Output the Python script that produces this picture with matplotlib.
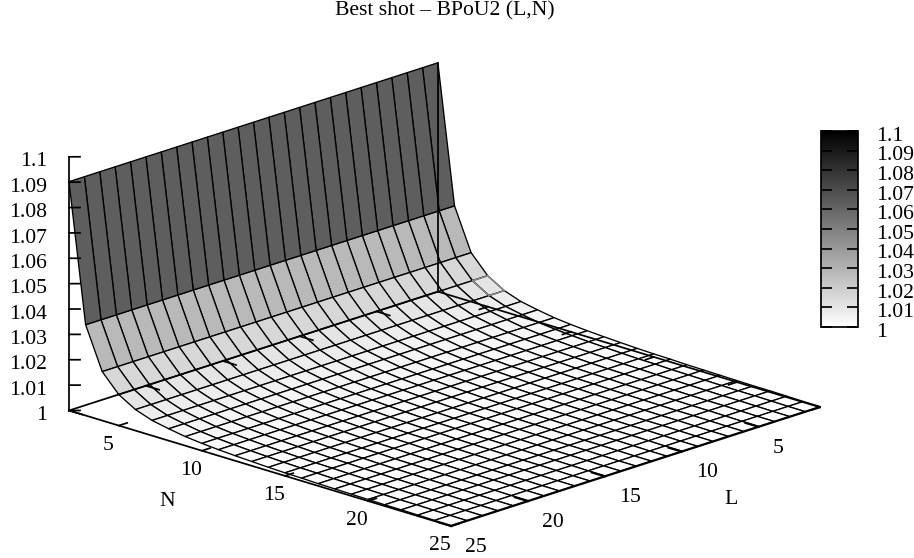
import numpy as np
import matplotlib
matplotlib.use('Agg')
import matplotlib.pyplot as plt
from matplotlib import cm, colors
from matplotlib.transforms import ScaledTranslation
from mpl_toolkits.mplot3d import proj3d

plt.rcParams['font.family'] = ['Liberation Serif', 'DejaVu Serif']
plt.rcParams['font.size'] = 15.6

title = 'Best shot – BPoU2 (L,N)'

# surface height, one value per N (2..25), flat along L
n_values = list(range(2, 26))
l_values = list(range(1, 26))
z_of_n = [1.0902, 1.0358, 1.0193, 1.0122, 1.0083, 1.0060, 1.0047, 1.0036,
          1.0029, 1.0024, 1.0020, 1.0017, 1.0014, 1.0012, 1.0011, 1.0009,
          1.0008, 1.0007, 1.0006, 1.0005, 1.0005, 1.0004, 1.0003, 1.0003]

xy_ticks = [5, 10, 15, 20, 25]
z_ticks = [1, 1.01, 1.02, 1.03, 1.04, 1.05, 1.06, 1.07, 1.08, 1.09, 1.1]
z_labels = ['1', '1.01', '1.02', '1.03', '1.04', '1.05', '1.06', '1.07', '1.08', '1.09', '1.1']

n_min, n_max = 2, 25
l_min, l_max = 1, 25
z_min, z_max = 1, 1.1

fig = plt.figure(figsize=(9.14, 5.58), dpi=100)
ax = fig.add_axes([0, 0, 1, 1], projection='3d', proj_type='ortho', computed_zorder=False)
ax.view_init(elev=18.2, azim=-45.9)
ax.set_box_aspect((532, 530, 267))
ax.set_xlim(n_min, n_max)
ax.set_ylim(l_max, l_min)
ax.set_zlim(z_min, z_max)
ax.set_axis_off()


def to_px(n, l, z):
    x, y, _ = proj3d.proj_transform(n, l, z, ax.get_proj())
    return ax.transData.transform((x, y))


def label(n, l, z, s, **kw):
    # plain 2d text at the projected position of a 3d point
    x, y, _ = proj3d.proj_transform(n, l, z, ax.get_proj())
    ax.text2D(x, y, s, transform=ax.transData, va='baseline', zorder=4, **kw)


# fit the square 3d axes so the box corners land where the reference has them
ax.apply_aspect()
span = to_px(n_max, l_min, z_min)[0] - to_px(n_min, l_max, z_min)[0]
side = ax.bbox.width * 751 / span
ax.set_position([0, 0, side / 914, side / 558])
ax.apply_aspect()
corner = to_px(n_min, l_max, z_min)
ax.set_position([(69 - corner[0]) / 914, (558 - 410.5 - corner[1]) / 558, side / 914, side / 558])

# pm3d style surface, cell colour is the mean of the four corners
NN, LL = np.meshgrid(n_values, l_values, indexing='ij')
ZZ = np.array([[z] * len(l_values) for z in z_of_n])
norm = colors.Normalize(z_min, z_max)
mean_z = (ZZ[:-1, :-1] + ZZ[1:, :-1] + ZZ[:-1, 1:] + ZZ[1:, 1:]) / 4
ax.plot_surface(NN, LL, ZZ, rstride=1, cstride=1, facecolors=cm.gray_r(norm(mean_z)),
                shade=False, edgecolor='black', linewidth=0.95, zorder=1)
ax.set_xlim(n_min, n_max)
ax.set_ylim(l_max, l_min)
ax.set_zlim(z_min, z_max)

# one cell has paler borders in the reference
ax.plot([5, 6, 6, 5, 5], [1, 1, 2, 2, 1], [z_of_n[3], z_of_n[4], z_of_n[4], z_of_n[3], z_of_n[3]],
        color='#8f8f8f', lw=0.95, zorder=2)

# box
box = dict(color='black', lw=1.25, zorder=3)
ax.plot([n_min, n_max], [l_max, l_max], [z_min, z_min], **box)
ax.plot([n_max, n_max], [l_max, l_min], [z_min, z_min], **box)
ax.plot([n_min, n_max], [l_min, l_min], [z_min, z_min], **box)
ax.plot([n_min, n_min], [l_max, l_min], [z_min, z_min], **box)
ax.plot([n_min, n_min], [l_max, l_max], [z_min, z_max], **box)
ax.plot([n_min, n_min], [l_min, l_min], [z_min, z_of_n[0]], **box)

# ticks
for t in xy_ticks:
    ax.plot([t, t], [l_max, l_max - 0.54], [z_min, z_min], **box)
    ax.plot([t, t], [l_min, l_min + 0.54], [z_min, z_min], **box)
    ax.plot([n_max, n_max - 0.8], [t, t], [z_min, z_min], **box)
    ax.plot([n_min, n_min + 0.8], [t, t], [z_min, z_min], **box)
    label(t, l_max + 0.7, z_min - 0.0081, str(t), ha='center')
    label(n_max + 0.85, t, z_min - 0.0084, str(t), ha='left')

for z, s in zip(z_ticks, z_labels):
    ax.plot([n_min, n_min + 0.34], [l_max, l_max - 0.35], [z, z], **box)
    label(n_min - 0.68, l_max + 0.69, z - 0.0038, s, ha='right')

label(12, l_max + 4.4, z_min - 0.0094, 'N', ha='center')
label(n_max + 4.8, 12, z_min - 0.0071, 'L', ha='center')

fig.text(444.5 / 914, 1 - 15 / 558, title, ha='center', va='baseline')

# colour box
cax = fig.add_axes([821 / 914, 1 - 327 / 558, 37 / 914, 196 / 558])
cbar = fig.colorbar(cm.ScalarMappable(norm=norm, cmap='gray_r'), cax=cax)
cbar.set_ticks(z_ticks, labels=z_labels)
cbar.outline.set_linewidth(1.25)
cax.tick_params(direction='in', left=True, right=True, length=8, width=1.25, pad=13, labelsize=15.6)
for lab in cax.get_yticklabels():
    lab.set_verticalalignment('baseline')
    lab.set_transform(lab.get_transform() + ScaledTranslation(0, -9.7 / 100, fig.dpi_scale_trans))

fig.savefig('out.png', dpi=100)
